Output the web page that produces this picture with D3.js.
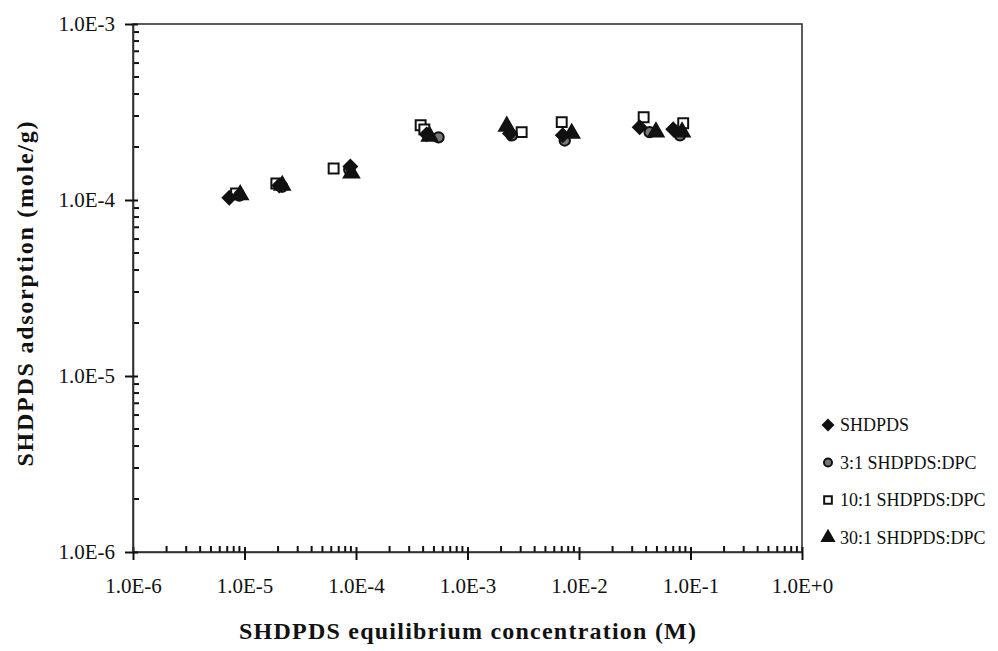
<!DOCTYPE html>
<html>
<head>
<meta charset="utf-8">
<script src="https://cdn.jsdelivr.net/npm/d3@7"></script>
<style>
  body { margin: 0; background: #fff; }
</style>
</head>
<body>
<div id="chart"></div>
<script>

// Series values (M, mole/g)
const shdpds_x = [ 7.3e-6, 2.05e-5, 8.9e-5, 4.3e-4, 2.4e-3, 7.15e-3, 3.5e-2, 7.0e-2 ];
const shdpds_y = [ 1.03e-4, 1.21e-4, 1.55e-4, 2.36e-4, 2.39e-4, 2.33e-4, 2.59e-4, 2.52e-4 ];

const dpc3_x = [ 9.0e-6, 2.18e-5, 8.7e-5, 5.5e-4, 2.5e-3, 7.45e-3, 4.3e-2, 8.05e-2 ];
const dpc3_y = [ 1.06e-4, 1.19e-4, 1.49e-4, 2.27e-4, 2.33e-4, 2.18e-4, 2.43e-4, 2.33e-4 ];

const dpc10_x = [ 8.4e-6, 1.93e-5, 6.3e-5, 3.8e-4, 4.1e-4, 3.06e-3, 7.0e-3, 3.8e-2, 8.6e-2 ];
const dpc10_y = [ 1.09e-4, 1.24e-4, 1.51e-4, 2.66e-4, 2.52e-4, 2.43e-4, 2.77e-4, 2.95e-4, 2.73e-4 ];

const dpc30_x = [ 9.15e-6, 2.18e-5, 9.1e-5, 4.57e-4, 2.25e-3, 8.6e-3, 4.9e-2, 8.4e-2 ];
const dpc30_y = [ 1.07e-4, 1.21e-4, 1.42e-4, 2.30e-4, 2.62e-4, 2.39e-4, 2.43e-4, 2.43e-4 ];

const series_names = [ 'SHDPDS', '3:1 SHDPDS:DPC', '10:1 SHDPDS:DPC', '30:1 SHDPDS:DPC' ];

const x_ticks = [ 1e-6, 1e-5, 1e-4, 1e-3, 1e-2, 1e-1, 1e0 ];
const x_tick_labels = [ '1.0E-6', '1.0E-5', '1.0E-4', '1.0E-3', '1.0E-2', '1.0E-1', '1.0E+0' ];
const y_ticks = [ 1e-6, 1e-5, 1e-4, 1e-3 ];
const y_tick_labels = [ '1.0E-6', '1.0E-5', '1.0E-4', '1.0E-3' ];

const xAxisTitle = 'SHDPDS equilibrium concentration (M)';
const yAxisTitle = 'SHDPDS adsorption (mole/g)';

const figure_width = 998;
const figure_height = 651;
const plot_margin = { top: 24, right: 196, bottom: 99, left: 133 },
    plot_width = figure_width - plot_margin.left - plot_margin.right,
    plot_height = figure_height - plot_margin.top - plot_margin.bottom;

const fontFamily = '"Liberation Serif", "DejaVu Serif", serif';
const scaleStyle = 'font-size:21px; font-family:' + fontFamily + ';';
const axisStyle = 'font-size:24px; font-weight:bold; font-family:' + fontFamily + ';';
const legendStyle = 'font-size:18px; font-family:' + fontFamily + ';';

const svg = d3.select( 'div#chart' )
  .append( 'svg' )
    .attr( 'width', figure_width )
    .attr( 'height', figure_height )
    .append( 'g' )
      .attr( 'transform', 'translate(' + plot_margin.left + ',' + plot_margin.top + ')' );

const x = d3.scaleLog()
  .domain( [ 1e-6, 1e0 ] )
  .range( [ 0, plot_width ] );

const y = d3.scaleLog()
  .domain( [ 1e-6, 1e-3 ] )
  .range( [ plot_height, 0 ] );

// minor ticks 2..9 of each decade
function minorTicks( lo, hi ) {
  const out = [];
  for ( let d = lo; d < hi * 0.99; d *= 10 ) {
    for ( let k = 2; k <= 9; k++ ) out.push( d * k );
  }
  return out;
}

// frame: top and right lines
svg.append( 'rect' )
  .attr( 'x', 0 ).attr( 'y', 0 )
  .attr( 'width', plot_width ).attr( 'height', plot_height )
  .attr( 'fill', 'none' )
  .attr( 'stroke', '#333' )
  .attr( 'stroke-width', 1.6 );

// minor ticks, pointing into the plot
svg.append( 'g' )
  .selectAll( 'line' )
  .data( minorTicks( 1e-6, 1e0 ) )
  .enter()
  .append( 'line' )
    .attr( 'x1', d => x( d ) ).attr( 'x2', d => x( d ) )
    .attr( 'y1', plot_height ).attr( 'y2', plot_height - 6 )
    .attr( 'stroke', '#111' ).attr( 'stroke-width', 2 );

svg.append( 'g' )
  .selectAll( 'line' )
  .data( minorTicks( 1e-6, 1e-3 ) )
  .enter()
  .append( 'line' )
    .attr( 'x1', 0 ).attr( 'x2', 6 )
    .attr( 'y1', d => y( d ) ).attr( 'y2', d => y( d ) )
    .attr( 'stroke', '#111' ).attr( 'stroke-width', 2 );

// X axis: major ticks crossing the line
svg.append( 'g' )
  .attr( 'transform', 'translate(0,' + plot_height + ')' )
  .call( d3.axisBottom( x ).tickValues( x_ticks ).tickSizeInner( 8 ).tickSizeOuter( 0 )
    .tickPadding( 18 ).tickFormat( ( d, i ) => x_tick_labels[ i ] ) )
  .attr( 'style', scaleStyle )
  .call( g => g.selectAll( '.tick line' ).attr( 'y1', -5 ) );

// Y axis
svg.append( 'g' )
  .call( d3.axisLeft( y ).tickValues( y_ticks ).tickSizeInner( 8 ).tickSizeOuter( 0 )
    .tickPadding( 10 ).tickFormat( ( d, i ) => y_tick_labels[ i ] ) )
  .attr( 'style', scaleStyle )
  .call( g => g.selectAll( '.tick line' ).attr( 'x1', 5 ) );

svg.selectAll( '.domain' ).attr( 'stroke', '#333' ).attr( 'stroke-width', 1.6 );
svg.selectAll( '.tick line' ).attr( 'stroke', '#111' ).attr( 'stroke-width', 2 );
svg.selectAll( '.tick text' ).attr( 'fill', '#111' );

// markers
const markers = [
  { type: d3.symbolDiamond2, size: 110, fill: '#111', stroke: '#111' },
  { type: d3.symbolCircle, size: 85, fill: '#777', stroke: '#111' },
  { type: d3.symbolSquare2, size: 125, fill: '#fff', stroke: '#111' },
  { type: d3.symbolTriangle, size: 100, fill: '#111', stroke: '#111' }
];
const series = [
  { xs: shdpds_x, ys: shdpds_y },
  { xs: dpc3_x, ys: dpc3_y },
  { xs: dpc10_x, ys: dpc10_y },
  { xs: dpc30_x, ys: dpc30_y }
];

// draw squares first so filled markers sit over them like in the picture
const drawOrder = [ 2, 1, 0, 3 ];
drawOrder.forEach( function( si ) {
  const m = markers[ si ];
  const s = series[ si ];
  const symbol = d3.symbol().type( m.type ).size( m.size );
  svg.append( 'g' )
    .selectAll( 'path' )
    .data( s.xs.map( ( v, i ) => ( { x: v, y: s.ys[ i ] } ) ) )
    .enter()
    .append( 'path' )
      .attr( 'd', symbol )
      .attr( 'transform', d => 'translate(' + x( d.x ) + ',' + y( d.y ) + ')' )
      .attr( 'fill', m.fill )
      .attr( 'stroke', m.stroke )
      .attr( 'stroke-width', 2 );
});

// axis titles
svg.append( 'text' )
  .attr( 'x', plot_width / 2 )
  .attr( 'y', plot_height + 87 )
  .attr( 'text-anchor', 'middle' )
  .attr( 'style', axisStyle )
  .attr( 'fill', '#111' )
  .attr( 'textLength', 457 )
  .attr( 'lengthAdjust', 'spacing' )
  .text( xAxisTitle );

svg.append( 'g' )
  .attr( 'transform', 'translate(' + ( -plot_margin.left + 33 ) + ',' + ( plot_height / 2 + 6 ) + ')' )
  .append( 'text' )
    .attr( 'text-anchor', 'middle' )
    .attr( 'transform', 'rotate(-90)' )
    .attr( 'style', axisStyle )
    .attr( 'fill', '#111' )
    .attr( 'textLength', 345 )
    .attr( 'lengthAdjust', 'spacing' )
    .text( yAxisTitle );

// legend
const legend_x = plot_width + 28;
const legend_y0 = 401;
const legend_step = 37.5;
series_names.forEach( function( name, i ) {
  const m = markers[ i ];
  const sym = d3.symbol().type( m.type ).size( m.size * 0.6 );
  svg.append( 'path' )
    .attr( 'd', sym )
    .attr( 'transform', 'translate(' + ( legend_x - 2 ) + ',' + ( legend_y0 + i * legend_step ) + ')' )
    .attr( 'fill', m.fill )
    .attr( 'stroke', m.stroke )
    .attr( 'stroke-width', 2 );
  svg.append( 'text' )
    .attr( 'x', legend_x + 10 )
    .attr( 'y', legend_y0 + i * legend_step + 6 )
    .attr( 'style', legendStyle )
    .attr( 'fill', '#111' )
    .text( name );
});

</script>
</body>
</html>
